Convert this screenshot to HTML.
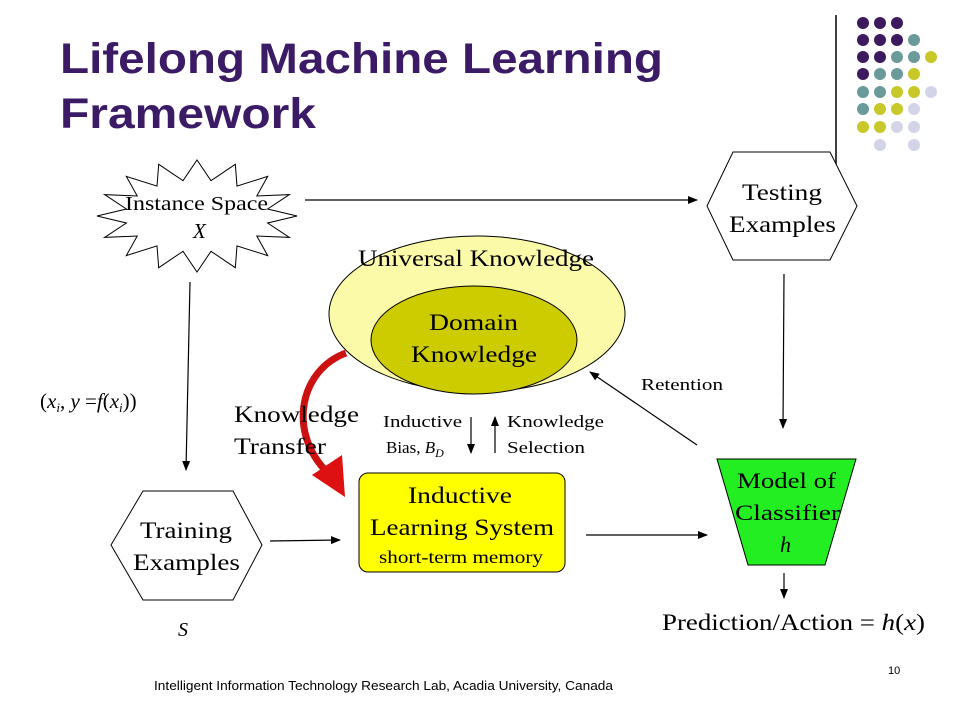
<!DOCTYPE html>
<html><head><meta charset="utf-8"><style>
body{margin:0;width:960px;height:720px;background:#fff;overflow:hidden}
svg{display:block}
</style></head><body>
<svg width="960" height="720" viewBox="0 0 960 720" xmlns="http://www.w3.org/2000/svg">
<defs>
<marker id="a" markerWidth="10" markerHeight="8" refX="9" refY="4" orient="auto" markerUnits="userSpaceOnUse"><path d="M0,0 L10,4 L0,8 Z" fill="#000"/></marker>
</defs>
<text x="60" y="73" font-family="Liberation Sans" font-weight="bold" font-size="43" fill="#3b1a66" textLength="603" lengthAdjust="spacingAndGlyphs">Lifelong Machine Learning</text>
<text x="60" y="128" font-family="Liberation Sans" font-weight="bold" font-size="43" fill="#3b1a66" textLength="256" lengthAdjust="spacingAndGlyphs">Framework</text>
<line x1="836" y1="15" x2="836" y2="178" stroke="#000" stroke-width="1.5"/>
<g>
<circle cx="863" cy="23" r="6" fill="#3d1a5e"/><circle cx="880" cy="23" r="6" fill="#3d1a5e"/><circle cx="897" cy="23" r="6" fill="#3d1a5e"/>
<circle cx="863" cy="40" r="6" fill="#3d1a5e"/><circle cx="880" cy="40" r="6" fill="#3d1a5e"/><circle cx="897" cy="40" r="6" fill="#3d1a5e"/><circle cx="914" cy="40" r="6" fill="#6a9a9a"/>
<circle cx="863" cy="57" r="6" fill="#3d1a5e"/><circle cx="880" cy="57" r="6" fill="#3d1a5e"/><circle cx="897" cy="57" r="6" fill="#6a9a9a"/><circle cx="914" cy="57" r="6" fill="#6a9a9a"/><circle cx="931" cy="57" r="6" fill="#c8c828"/>
<circle cx="863" cy="74" r="6" fill="#3d1a5e"/><circle cx="880" cy="74" r="6" fill="#6a9a9a"/><circle cx="897" cy="74" r="6" fill="#6a9a9a"/><circle cx="914" cy="74" r="6" fill="#c8c828"/>
<circle cx="863" cy="92" r="6" fill="#6a9a9a"/><circle cx="880" cy="92" r="6" fill="#6a9a9a"/><circle cx="897" cy="92" r="6" fill="#c8c828"/><circle cx="914" cy="92" r="6" fill="#c8c828"/><circle cx="931" cy="92" r="6" fill="#d4d4e8"/>
<circle cx="863" cy="109" r="6" fill="#6a9a9a"/><circle cx="880" cy="109" r="6" fill="#c8c828"/><circle cx="897" cy="109" r="6" fill="#c8c828"/><circle cx="914" cy="109" r="6" fill="#d4d4e8"/>
<circle cx="863" cy="127" r="6" fill="#c8c828"/><circle cx="880" cy="127" r="6" fill="#c8c828"/><circle cx="897" cy="127" r="6" fill="#d4d4e8"/><circle cx="914" cy="127" r="6" fill="#d4d4e8"/>
<circle cx="880" cy="145" r="6" fill="#d4d4e8"/><circle cx="914" cy="145" r="6" fill="#d4d4e8"/>
</g>
<polygon fill="#fff" stroke="#000" stroke-width="1" points="297,216 267.6,223 289.4,237.4 256.8,236 267.7,255.6 237,245.9 235.3,267.7 211,251.3 197,272 183,251.3 158.7,267.7 157,245.9 126.3,255.6 137.2,236 104.6,237.4 126.4,223 97,216 126.4,209 104.6,194.6 137.2,196 126.3,176.4 157,186.1 158.7,164.3 183,180.7 197,160 211,180.7 235.3,164.3 237,186.1 267.7,176.4 256.8,196 289.4,194.6 267.6,209"/>
<polygon points="707,206 733,152 830,152 857,206 830,260 733,260" fill="#fff" stroke="#000"/>
<polygon points="111,545 143,491 233,491 262,545 233,600 143,600" fill="#fff" stroke="#000"/>
<ellipse cx="477" cy="314" rx="148" ry="78" fill="#fafaa8" stroke="#000"/>
<ellipse cx="474" cy="340" rx="103" ry="54" fill="#cccc00" stroke="#000"/>
<rect x="359" y="473" width="206" height="99" rx="9" fill="#ffff00" stroke="#000"/>
<polygon points="717,459 856,459 825,565 748,565" fill="#22ee22" stroke="#000"/>
<g stroke="#000" stroke-width="1.2" fill="none" marker-end="url(#a)">
<line x1="305" y1="200" x2="697" y2="200"/>
<line x1="190" y1="282" x2="186" y2="470"/>
<line x1="270" y1="541" x2="340" y2="540"/>
<line x1="586" y1="535" x2="707" y2="535"/>
<line x1="784" y1="274" x2="783" y2="428"/>
<line x1="697" y1="445" x2="590" y2="372"/>
<line x1="784" y1="573" x2="784" y2="598"/>
<line x1="471" y1="417" x2="471" y2="453"/>
<line x1="495" y1="453" x2="495" y2="417"/>
</g>
<path d="M346,353 C300,370 288,430 325,470" stroke="#cc1111" stroke-width="7" fill="none"/>
<path d="M312,475 L345,497 L342,455 Z" fill="#dd1111"/>
<g font-family="Liberation Serif" fill="#000" lengthAdjust="spacingAndGlyphs">
<text x="125" y="210" font-size="20" textLength="143" lengthAdjust="spacingAndGlyphs">Instance Space</text>
<text x="193" y="238" font-size="21" font-style="italic">X</text>
<text x="742" y="200" font-size="23" textLength="80" lengthAdjust="spacingAndGlyphs">Testing</text>
<text x="729" y="232" font-size="23" textLength="107" lengthAdjust="spacingAndGlyphs">Examples</text>
<text x="140" y="538" font-size="23" textLength="92" lengthAdjust="spacingAndGlyphs">Training</text>
<text x="133" y="570" font-size="23" textLength="107" lengthAdjust="spacingAndGlyphs">Examples</text>
<text x="178" y="636" font-size="20" font-style="italic">S</text>
<text x="358" y="266" font-size="23" textLength="236" lengthAdjust="spacingAndGlyphs">Universal Knowledge</text>
<text x="429" y="330" font-size="23" textLength="89" lengthAdjust="spacingAndGlyphs">Domain</text>
<text x="411" y="362" font-size="23" textLength="126" lengthAdjust="spacingAndGlyphs">Knowledge</text>
<text x="408" y="503" font-size="23" textLength="104" lengthAdjust="spacingAndGlyphs">Inductive</text>
<text x="370" y="535" font-size="23" textLength="184" lengthAdjust="spacingAndGlyphs">Learning System</text>
<text x="379" y="563" font-size="18" textLength="164" lengthAdjust="spacingAndGlyphs">short-term memory</text>
<text x="737" y="488" font-size="22" textLength="99" lengthAdjust="spacingAndGlyphs">Model of</text>
<text x="735" y="520" font-size="22" textLength="105" lengthAdjust="spacingAndGlyphs">Classifier</text>
<text x="780" y="552" font-size="22" font-style="italic">h</text>
<text x="383" y="427" font-size="17" textLength="79" lengthAdjust="spacingAndGlyphs">Inductive</text>
<text x="386" y="453" font-size="17">Bias, <tspan font-style="italic">B</tspan><tspan font-style="italic" font-size="12" dy="4">D</tspan></text>
<text x="507" y="427" font-size="17" textLength="97" lengthAdjust="spacingAndGlyphs">Knowledge</text>
<text x="507" y="453" font-size="17" textLength="78" lengthAdjust="spacingAndGlyphs">Selection</text>
<text x="234" y="422" font-size="23" textLength="125" lengthAdjust="spacingAndGlyphs">Knowledge</text>
<text x="234" y="454" font-size="23" textLength="92" lengthAdjust="spacingAndGlyphs">Transfer</text>
<text x="641" y="390" font-size="17" textLength="82" lengthAdjust="spacingAndGlyphs">Retention</text>
<text x="40" y="408" font-size="21">(<tspan font-style="italic">x</tspan><tspan font-style="italic" font-size="13" dy="4">i</tspan><tspan dy="-4">, </tspan><tspan font-style="italic">y</tspan> =<tspan font-style="italic">f</tspan>(<tspan font-style="italic">x</tspan><tspan font-style="italic" font-size="13" dy="4">i</tspan><tspan dy="-4">))</tspan></text>
<text x="662" y="630" font-size="23" textLength="263" lengthAdjust="spacingAndGlyphs">Prediction/Action = <tspan font-style="italic">h</tspan>(<tspan font-style="italic">x</tspan>)</text>
</g>
<text x="154" y="690" font-family="Liberation Sans" font-size="12.5" fill="#000" textLength="459" lengthAdjust="spacingAndGlyphs">Intelligent  Information Technology Research Lab,   Acadia University, Canada</text>
<text x="888" y="674" font-family="Liberation Sans" font-size="11" fill="#000">10</text>
</svg>
</body></html>
